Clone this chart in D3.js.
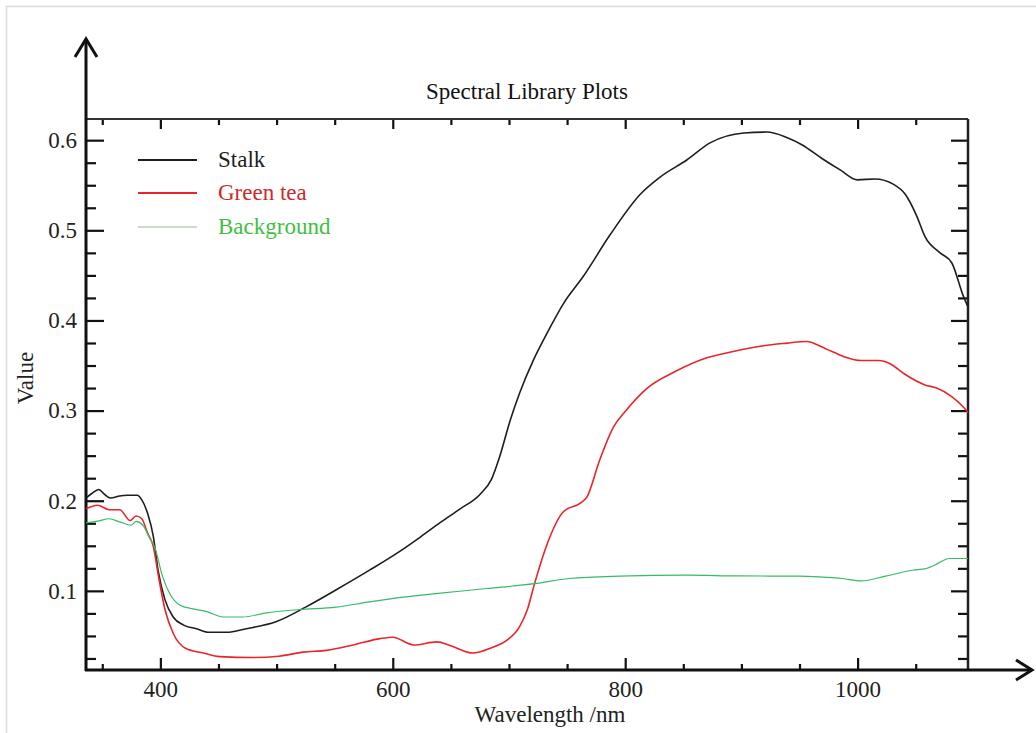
<html>
<head>
<script src="https://d3js.org/d3.v7.min.js"></script>
<style>
  body { margin: 0; background: #fff; }
  text { font-family: "Liberation Serif", "Times New Roman", serif; }
</style>
</head>
<body>
<svg></svg>
<script>
// wavelength (nm), value
var stalk = [[336,0.203],[341,0.208],[347,0.2125],[352,0.207],[357,0.203],[365,0.2053],[372,0.206],[380,0.2061],[384,0.201],[389,0.186],[394,0.160],[398,0.123],[404,0.090],[411,0.071],[420,0.062],[431,0.058],[442,0.054],[457,0.054],[474,0.058],[500,0.066],[525,0.082],[551,0.101],[580,0.123],[605,0.143],[624,0.160],[641,0.176],[658,0.191],[675,0.207],[685,0.224],[692,0.249],[701,0.289],[709,0.319],[721,0.356],[732,0.384],[747,0.419],[764,0.449],[787,0.495],[813,0.540],[830,0.559],[853,0.578],[873,0.597],[902,0.608],[922,0.609],[939,0.603],[952,0.595],[969,0.580],[985,0.567],[1000,0.556],[1015,0.557],[1031,0.551],[1041,0.540],[1051,0.5155],[1058,0.493],[1071,0.475],[1081,0.464],[1091,0.427],[1095,0.415]];
var greenTea = [[336,0.191],[346,0.195],[356,0.190],[365,0.190],[374,0.178],[379,0.183],[384,0.180],[389,0.164],[394,0.149],[398,0.119],[404,0.079],[411,0.053],[422,0.036],[437,0.031],[451,0.027],[480,0.026],[502,0.0275],[523,0.032],[543,0.034],[566,0.040],[589,0.047],[600,0.0486],[618,0.040],[638,0.0434],[650,0.039],[669,0.031],[685,0.037],[698,0.045],[709,0.060],[716,0.080],[722,0.108],[732,0.149],[747,0.188],[761,0.197],[767,0.204],[778,0.245],[790,0.282],[800,0.299],[819,0.325],[843,0.3433],[869,0.358],[893,0.3656],[919,0.372],[939,0.3748],[956,0.3767],[972,0.369],[988,0.360],[1003,0.3556],[1018,0.3556],[1028,0.352],[1041,0.340],[1058,0.3285],[1068,0.325],[1081,0.3156],[1091,0.304],[1095,0.298]];
var background = [[336,0.1754],[346,0.1773],[356,0.180],[365,0.1765],[375,0.1728],[379,0.177],[385,0.1728],[391,0.158],[395,0.149],[402,0.1155],[408,0.097],[417,0.084],[428,0.080],[440,0.077],[454,0.071],[471,0.071],[491,0.0756],[520,0.0793],[551,0.082],[580,0.0878],[609,0.093],[637,0.097],[681,0.1026],[722,0.108],[752,0.1137],[795,0.1163],[853,0.1174],[896,0.1166],[950,0.1163],[967,0.1155],[987,0.1137],[1003,0.111],[1024,0.1163],[1047,0.1229],[1059,0.1248],[1067,0.129],[1079,0.1359],[1095,0.1359]];

var seriesNames = ["Stalk", "Green tea", "Background"];
var seriesColors = ["#1e1e1e", "#e8262a", "#35bb66"];
var seriesText = ["#1e1e1e", "#cc2a2a", "#3fbf3f"];
var xMajor = [400, 600, 800, 1000];
var yMajor = [0.1, 0.2, 0.3, 0.4, 0.5, 0.6];

var width = 1036, height = 733;
// note: "top" is taken by window.top, so plot edges get their own names
var pLeft = 86, pRight = 968, pTop = 119, pBottom = 670;

var svg = d3.select("svg").attr("width", width).attr("height", height);

// light frame round the picture
svg.append("rect").attr("x", 6.5).attr("y", 6.5).attr("width", 1040).attr("height", 740)
  .attr("fill", "none").attr("stroke", "#dcdcdc").attr("stroke-width", 1.5);

var x = d3.scaleLinear().domain([336, 1095]).range([pLeft, pRight]);
var y = d3.scaleLinear().domain([0.0122, 0.6235]).range([pBottom, pTop]);

var xMinor = d3.range(350, 1095, 50).filter(function(d) { return xMajor.indexOf(d) < 0; });
var yMinor = d3.range(1, 25).map(function(i) { return i * 0.025; })
  .filter(function(d) { return Math.abs(d * 10 - Math.round(d * 10)) > 1e-6; });

// axes with inward ticks
var xAxisG = svg.append("g").attr("transform", "translate(0," + pBottom + ")")
  .call(d3.axisBottom(x).tickValues(xMajor).tickSize(-12).tickFormat(d3.format("d")));
svg.append("g").attr("transform", "translate(0," + pBottom + ")")
  .call(d3.axisBottom(x).tickValues(xMinor).tickSize(-6).tickFormat(""));
svg.append("g").attr("transform", "translate(0," + pTop + ")")
  .call(d3.axisTop(x).tickValues(xMajor).tickSize(-10).tickFormat(""));
svg.append("g").attr("transform", "translate(0," + pTop + ")")
  .call(d3.axisTop(x).tickValues(xMinor).tickSize(-6).tickFormat(""));
var yAxisG = svg.append("g").attr("transform", "translate(" + pLeft + ",0)")
  .call(d3.axisLeft(y).tickValues(yMajor).tickSize(-18).tickFormat(d3.format(".1f")));
svg.append("g").attr("transform", "translate(" + pLeft + ",0)")
  .call(d3.axisLeft(y).tickValues(yMinor).tickSize(-10).tickFormat(""));
svg.append("g").attr("transform", "translate(" + pRight + ",0)")
  .call(d3.axisRight(y).tickValues(yMajor).tickSize(-17).tickFormat(""));
svg.append("g").attr("transform", "translate(" + pRight + ",0)")
  .call(d3.axisRight(y).tickValues(yMinor).tickSize(-10).tickFormat(""));

svg.selectAll(".domain").remove();
svg.selectAll(".tick line").attr("stroke", "#111").attr("stroke-width", 2.2);
svg.selectAll(".tick text").attr("font-family", "Liberation Serif, serif")
  .attr("font-size", 23).attr("fill", "#222");
xAxisG.selectAll(".tick text").attr("y", 11);
yAxisG.selectAll(".tick text").attr("x", -9);

// frame
svg.append("line").attr("x1", pLeft).attr("x2", pRight).attr("y1", pTop).attr("y2", pTop)
  .attr("stroke", "#333").attr("stroke-width", 2);
svg.append("line").attr("x1", pRight).attr("x2", pRight).attr("y1", pTop).attr("y2", pBottom)
  .attr("stroke", "#222").attr("stroke-width", 2.5);
// axis lines with arrows
svg.append("line").attr("x1", pLeft).attr("x2", pLeft).attr("y1", pBottom + 1).attr("y2", 39)
  .attr("stroke", "#111").attr("stroke-width", 3);
svg.append("line").attr("x1", pLeft - 1).attr("x2", 1032).attr("y1", pBottom).attr("y2", pBottom)
  .attr("stroke", "#111").attr("stroke-width", 3);
svg.append("path").attr("d", "M75,57 L86,39 L97,57").attr("fill", "none")
  .attr("stroke", "#111").attr("stroke-width", 3);
svg.append("path").attr("d", "M1016,660 L1032,670 L1016,680").attr("fill", "none")
  .attr("stroke", "#111").attr("stroke-width", 3);

// curves
var line = d3.line()
  .x(function(d) { return x(d[0]); })
  .y(function(d) { return y(d[1]); })
  .curve(d3.curveMonotoneX);

var data = [stalk, greenTea, background];
var widths = [1.6, 1.6, 1.2];
data.forEach(function(s, i) {
  svg.append("path").datum(s)
    .attr("fill", "none")
    .attr("stroke", seriesColors[i])
    .attr("stroke-width", widths[i])
    .attr("stroke-linejoin", "round")
    .attr("d", line);
});

// legend
var legendY = [160, 193, 227];
seriesNames.forEach(function(name, i) {
  svg.append("line").attr("x1", 138).attr("x2", 197).attr("y1", legendY[i]).attr("y2", legendY[i])
    .attr("stroke", i == 2 ? "#c8dcc8" : seriesColors[i]).attr("stroke-width", 2);
  svg.append("text").attr("x", 218).attr("y", legendY[i] + 7)
    .attr("font-size", 23).attr("fill", seriesText[i]).text(name);
});

// titles
svg.append("text").attr("x", 527).attr("y", 99).attr("text-anchor", "middle")
  .attr("font-size", 23).attr("fill", "#111").text("Spectral Library Plots");
svg.append("text").attr("x", 550).attr("y", 722).attr("text-anchor", "middle")
  .attr("font-size", 23).attr("fill", "#222").text("Wavelength /nm");
svg.append("text").attr("transform", "translate(33,378) rotate(-90)").attr("text-anchor", "middle")
  .attr("font-size", 23).attr("fill", "#222").text("Value");
</script>
</body>
</html>
